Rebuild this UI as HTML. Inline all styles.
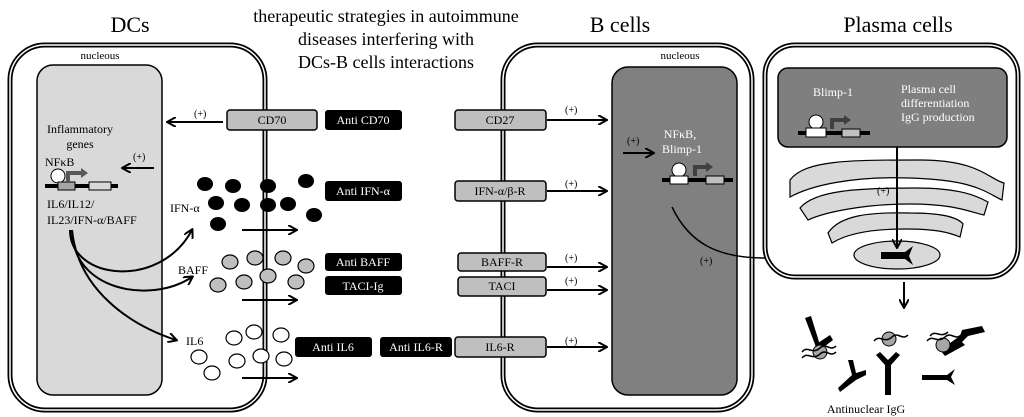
<!DOCTYPE html>
<html><head><meta charset="utf-8"><style>
html,body{margin:0;padding:0;background:#fff}
svg{display:block}
text{font-family:"Liberation Serif",serif}
</style></head><body>
<svg width="1024" height="417" viewBox="0 0 1024 417" xmlns="http://www.w3.org/2000/svg">
<defs>
<marker id="ah" markerWidth="10" markerHeight="10" refX="8" refY="5" orient="auto" markerUnits="userSpaceOnUse">
<path d="M0,0 L9,5 L0,10" fill="none" stroke="#000" stroke-width="2"/>
</marker>
</defs>
<text x="130" y="32" font-size="22" text-anchor="middle">DCs</text>
<text x="620" y="32" font-size="22" text-anchor="middle">B cells</text>
<text x="898" y="32" font-size="22" text-anchor="middle">Plasma cells</text>
<text x="386" y="22" font-size="18" text-anchor="middle">therapeutic strategies in autoimmune</text>
<text x="386" y="45" font-size="18" text-anchor="middle">diseases interfering with</text>
<text x="386" y="68" font-size="18" text-anchor="middle">DCs-B cells interactions</text>

<rect x="10" y="45" width="255" height="365" rx="35" fill="#fff" stroke="#000" stroke-width="5"/>
<rect x="10" y="45" width="255" height="365" rx="35" fill="none" stroke="#fff" stroke-width="1.5"/>
<rect x="37" y="65" width="125" height="330" rx="16" fill="#d9d9d9" stroke="#000" stroke-width="1.5"/>
<text x="100" y="59" font-size="11" text-anchor="middle">nucleous</text>
<text x="80" y="133" font-size="12" text-anchor="middle">Inflammatory</text>
<text x="80" y="148" font-size="12" text-anchor="middle">genes</text>
<text x="45" y="166" font-size="12">NFκB</text>
<line x1="45" y1="186" x2="118" y2="186" stroke="#000" stroke-width="4"/>
<circle cx="58" cy="176" r="7" fill="#fff" stroke="#000"/>
<rect x="58" y="182" width="17" height="8" fill="#a6a6a6" stroke="#000"/>
<rect x="89" y="182" width="22" height="8" fill="#d9d9d9" stroke="#000"/>
<path d="M68,182 L68,173 L82,173" fill="none" stroke="#595959" stroke-width="4"/>
<path d="M81,168 L88,173 L81,178Z" fill="#595959"/>
<text x="47" y="208" font-size="12">IL6/IL12/</text>
<text x="47" y="224" font-size="12">IL23/IFN-α/BAFF</text>
<path d="M70,230 C70,280 160,290 192,230" fill="none" stroke="#000" stroke-width="2" marker-end="url(#ah)"/>
<path d="M72,230 C72,290 150,305 192,277" fill="none" stroke="#000" stroke-width="2" marker-end="url(#ah)"/>
<path d="M72,230 C78,290 130,325 176,340" fill="none" stroke="#000" stroke-width="2" marker-end="url(#ah)"/>
<text x="194" y="117" font-size="10">(+)</text>
<line x1="223" y1="122" x2="168" y2="122" stroke="#000" stroke-width="2" marker-end="url(#ah)"/>
<text x="133" y="160" font-size="10">(+)</text>
<line x1="154" y1="168" x2="123" y2="168" stroke="#000" stroke-width="2" marker-end="url(#ah)"/>
<text x="170" y="212" font-size="12">IFN-α</text>
<text x="178" y="274" font-size="12">BAFF</text>
<text x="186" y="345" font-size="12">IL6</text>
<g fill="#000">
<ellipse cx="205" cy="184" rx="8" ry="7"/><ellipse cx="233" cy="186" rx="8" ry="7"/><ellipse cx="216" cy="203" rx="8" ry="7"/><ellipse cx="242" cy="205" rx="8" ry="7"/><ellipse cx="218" cy="224" rx="8" ry="7"/><ellipse cx="268" cy="186" rx="8" ry="7"/><ellipse cx="288" cy="204" rx="8" ry="7"/><ellipse cx="306" cy="181" rx="8" ry="7"/><ellipse cx="314" cy="215" rx="8" ry="7"/><ellipse cx="268" cy="205" rx="8" ry="7"/>
</g>
<g fill="#bfbfbf" stroke="#000" stroke-width="1.2">
<ellipse cx="230" cy="262" rx="8" ry="7"/><ellipse cx="255" cy="258" rx="8" ry="7"/><ellipse cx="283" cy="258" rx="8" ry="7"/><ellipse cx="306" cy="266" rx="8" ry="7"/><ellipse cx="218" cy="285" rx="8" ry="7"/><ellipse cx="244" cy="282" rx="8" ry="7"/><ellipse cx="268" cy="276" rx="8" ry="7"/><ellipse cx="296" cy="282" rx="8" ry="7"/>
</g>
<g fill="#fff" stroke="#000" stroke-width="1.2">
<ellipse cx="234" cy="338" rx="8" ry="7"/><ellipse cx="254" cy="332" rx="8" ry="7"/><ellipse cx="281" cy="335" rx="8" ry="7"/><ellipse cx="199" cy="357" rx="8" ry="7"/><ellipse cx="212" cy="373" rx="8" ry="7"/><ellipse cx="237" cy="361" rx="8" ry="7"/><ellipse cx="261" cy="356" rx="8" ry="7"/><ellipse cx="284" cy="359" rx="8" ry="7"/>
</g>
<line x1="242" y1="230" x2="296" y2="230" stroke="#000" stroke-width="2" marker-end="url(#ah)"/>
<line x1="242" y1="300" x2="296" y2="300" stroke="#000" stroke-width="2" marker-end="url(#ah)"/>
<line x1="242" y1="378" x2="296" y2="378" stroke="#000" stroke-width="2" marker-end="url(#ah)"/>

<rect x="503" y="45" width="249" height="365" rx="35" fill="#fff" stroke="#000" stroke-width="5"/>
<rect x="503" y="45" width="249" height="365" rx="35" fill="none" stroke="#fff" stroke-width="1.5"/>
<rect x="612" y="67" width="125" height="328" rx="16" fill="#808080" stroke="#000" stroke-width="1.5"/>
<text x="680" y="59" font-size="11" text-anchor="middle">nucleous</text>
<text x="680" y="138" font-size="12" fill="#fff" text-anchor="middle">NFκB,</text>
<text x="682" y="153" font-size="12" fill="#fff" text-anchor="middle">Blimp-1</text>
<line x1="662" y1="180" x2="733" y2="180" stroke="#000" stroke-width="4"/>
<circle cx="679" cy="170" r="7" fill="#fff" stroke="#000"/>
<rect x="670" y="176" width="18" height="8" fill="#fff" stroke="#000"/>
<rect x="706" y="176" width="18" height="8" fill="#bfbfbf" stroke="#000"/>
<path d="M695,176 L695,167 L707,167" fill="none" stroke="#404040" stroke-width="4"/>
<path d="M706,162 L713,167 L706,172Z" fill="#404040"/>
<text x="627" y="144" font-size="10">(+)</text>
<line x1="623" y1="153" x2="653" y2="153" stroke="#000" stroke-width="2" marker-end="url(#ah)"/>
<text x="700" y="264" font-size="10">(+)</text>
<path d="M672,207 C690,245 720,258 765,258 C810,258 840,220 852,152" fill="none" stroke="#000" stroke-width="1.5" marker-end="url(#ah)"/>

<g stroke="#000" stroke-width="2">
<line x1="547" y1="120" x2="606" y2="120" marker-end="url(#ah)"/>
<line x1="547" y1="191" x2="606" y2="191" marker-end="url(#ah)"/>
<line x1="547" y1="267" x2="606" y2="267" marker-end="url(#ah)"/>
<line x1="547" y1="290" x2="606" y2="290" marker-end="url(#ah)"/>
<line x1="547" y1="347" x2="606" y2="347" marker-end="url(#ah)"/>
</g>
<g font-size="10"><text x="565" y="113">(+)</text><text x="565" y="187">(+)</text><text x="565" y="261">(+)</text><text x="565" y="284">(+)</text><text x="565" y="344">(+)</text></g>

<g fill="#bfbfbf" stroke="#000" stroke-width="1.5">
<rect x="227" y="110" width="90" height="20" rx="3"/>
<rect x="455" y="110" width="91" height="20" rx="3"/>
<rect x="455" y="181" width="91" height="20" rx="3"/>
<rect x="458" y="253" width="88" height="18" rx="3"/>
<rect x="458" y="277" width="88" height="19" rx="3"/>
<rect x="455" y="337" width="91" height="20" rx="3"/>
</g>
<g font-size="12" text-anchor="middle">
<text x="272" y="124">CD70</text><text x="500" y="124">CD27</text><text x="500" y="195">IFN-α/β-R</text>
<text x="502" y="266">BAFF-R</text><text x="502" y="290">TACI</text><text x="500" y="351">IL6-R</text>
</g>
<g fill="#000">
<rect x="325" y="110" width="77" height="20" rx="3"/>
<rect x="325" y="181" width="77" height="20" rx="3"/>
<rect x="325" y="253" width="77" height="18" rx="3"/>
<rect x="325" y="276" width="77" height="19" rx="3"/>
<rect x="295" y="337" width="77" height="20" rx="3"/>
<rect x="380" y="337" width="72" height="20" rx="3"/>
</g>
<g font-size="12" fill="#fff" text-anchor="middle">
<text x="363" y="124">Anti CD70</text><text x="363" y="195">Anti IFN-α</text><text x="363" y="266">Anti  BAFF</text>
<text x="363" y="290">TACI-Ig</text><text x="333" y="351">Anti IL6</text><text x="416" y="351">Anti IL6-R</text>
</g>

<rect x="765" y="45" width="253" height="232" rx="30" fill="#fff" stroke="#000" stroke-width="5"/>
<rect x="765" y="45" width="253" height="232" rx="30" fill="none" stroke="#fff" stroke-width="1.5"/>
<rect x="778" y="68" width="229" height="79" rx="10" fill="#7f7f7f" stroke="#000" stroke-width="1.5"/>
<text x="813" y="96" font-size="12" fill="#fff">Blimp-1</text>
<text x="901" y="93" font-size="12" fill="#fff">Plasma cell</text>
<text x="901" y="107" font-size="12" fill="#fff">differentiation</text>
<text x="901" y="121" font-size="12" fill="#fff">IgG production</text>
<line x1="798" y1="133" x2="870" y2="133" stroke="#000" stroke-width="4"/>
<circle cx="816" cy="122" r="7" fill="#fff" stroke="#000"/>
<rect x="806" y="128" width="20" height="9" fill="#fff" stroke="#000"/>
<rect x="842" y="129" width="18" height="8" fill="#bfbfbf" stroke="#000"/>
<path d="M832,129 L832,120 L845,120" fill="none" stroke="#404040" stroke-width="4"/>
<path d="M844,115 L851,120 L844,125Z" fill="#404040"/>
<g fill="#d9d9d9" stroke="#000" stroke-width="1.2">
<path d="M790,180 C805,160 850,160 920,160 C980,160 990,180 1004,183 L1002,200 C985,192 975,180 910,178 C850,176 810,186 790,197Z"/>
<path d="M800,208 C815,190 860,188 915,188 C965,188 980,198 988,202 L984,215 C970,212 955,204 910,204 C865,204 825,212 808,220Z"/>
<path d="M828,233 C840,215 870,212 910,213 C950,213 960,220 963,224 L960,237 C948,232 935,229 905,229 C875,229 848,233 832,243Z"/>
</g>
<text x="877" y="194" font-size="10">(+)</text>
<ellipse cx="897" cy="255" rx="43" ry="14" fill="#d9d9d9" stroke="#000" stroke-width="1.2"/>
<path d="M881,252 L905,252 L913,246 L909,256 L913,265 L905,259 L881,259Z" fill="#000"/>
<line x1="897" y1="147" x2="897" y2="247" stroke="#000" stroke-width="2" marker-end="url(#ah)"/>
<line x1="904" y1="282" x2="904" y2="307" stroke="#000" stroke-width="2" marker-end="url(#ah)"/>

<g fill="#000">
<path d="M805,318 L811,316 L820,345 L816,347Z"/>
<path d="M815,345 L830,335 L833,340 L820,350Z"/>
<path d="M840,392 L838,388 L852,375 L848,360 L853,360 L856,373 L866,370 L866,375 L856,380Z"/>
<path d="M885,395 L891,395 L891,365 L900,355 L896,352 L888,360 L880,352 L876,355 L885,365Z"/>
<path d="M940,350 L960,336 L962,330 L982,326 L985,332 L968,336 L962,342 L965,345 L945,356Z"/>
<path d="M922,375 L947,375 L955,369 L951,377 L955,385 L947,380 L922,380Z"/>
</g>
<g fill="#a6a6a6" stroke="#000" stroke-width="1">
<circle cx="820" cy="352" r="7"/><circle cx="889" cy="339" r="7"/><circle cx="943" cy="345" r="7"/>
</g>
<g fill="none" stroke="#000" stroke-width="1.5">
<path d="M802,352 C808,345 812,355 820,348 C826,342 830,352 836,346"/>
<path d="M802,358 C808,351 812,361 820,354 C826,348 830,358 836,352"/>
<path d="M874,341 C880,334 884,344 892,337 C898,331 902,341 908,335"/>
<path d="M927,341 C933,334 937,344 945,337 C951,331 955,341 961,335"/>
<path d="M930,336 C936,329 940,339 948,332"/>
</g>
<text x="866" y="413" font-size="12" text-anchor="middle">Antinuclear IgG</text>
</svg>
</body></html>
